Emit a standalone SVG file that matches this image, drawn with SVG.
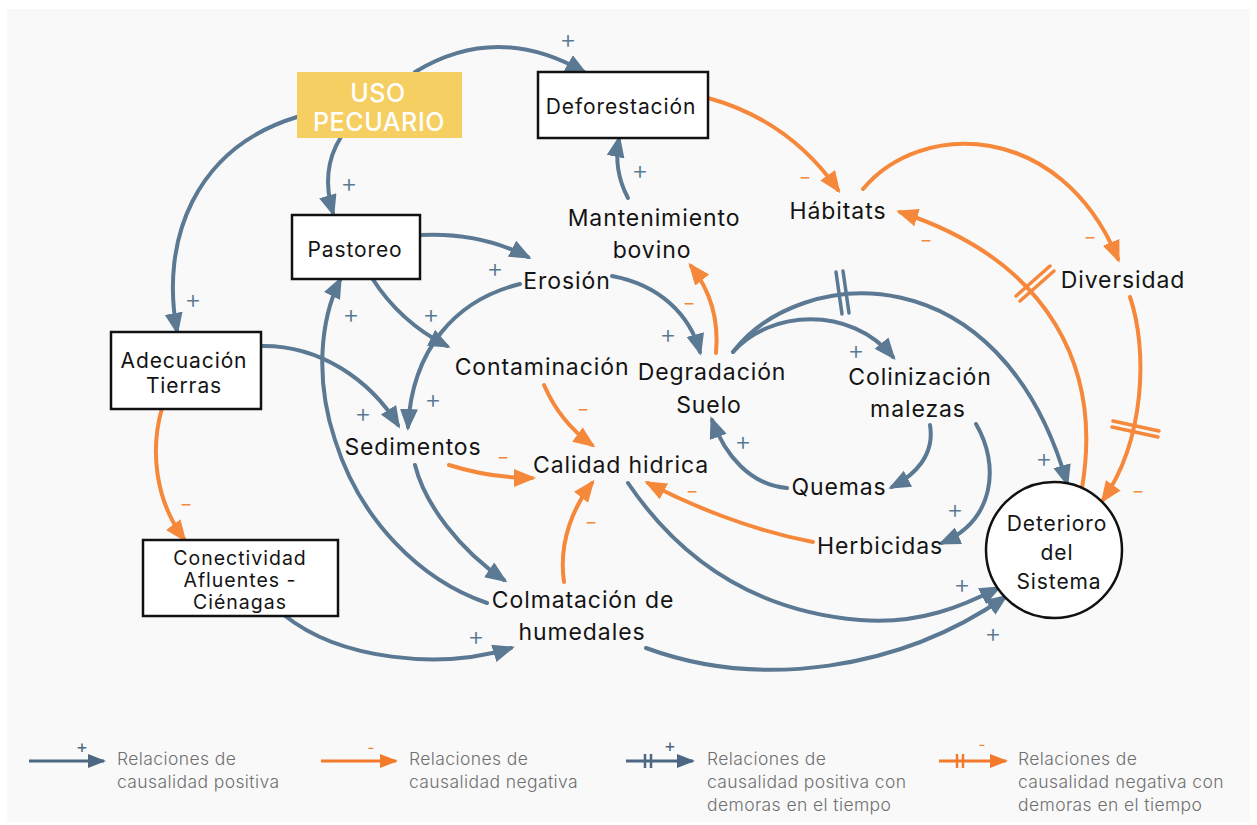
<svg xmlns="http://www.w3.org/2000/svg" width="1257" height="825" viewBox="0 0 1257 825">
  <defs>
    <marker id="ah-blue" markerUnits="userSpaceOnUse" markerWidth="24" markerHeight="20" refX="18" refY="9" orient="auto">
      <path d="M0,0 L22,9 L0,18 Z" fill="#5b7993"/>
    </marker>
    <marker id="ah-orange" markerUnits="userSpaceOnUse" markerWidth="24" markerHeight="20" refX="18" refY="9" orient="auto">
      <path d="M0,0 L22,9 L0,18 Z" fill="#f5883a"/>
    </marker>
    <marker id="ah-lg-blue" markerUnits="userSpaceOnUse" markerWidth="20" markerHeight="16" refX="16" refY="7" orient="auto">
      <path d="M0,0 L18,7 L0,14 Z" fill="#4c6781"/>
    </marker>
    <marker id="ah-lg-orange" markerUnits="userSpaceOnUse" markerWidth="20" markerHeight="16" refX="16" refY="7" orient="auto">
      <path d="M0,0 L18,7 L0,14 Z" fill="#f37a2a"/>
    </marker>
    <style>
      .lbl { font-family: Inter, "Liberation Sans", sans-serif; font-size: 23px; fill: #141414; text-anchor: middle; dominant-baseline: central; letter-spacing: 0.9px; }
      .box-t { font-size: 21px; }
      .small-t { font-size: 19.5px; letter-spacing: 1px; }
      .uso-t { font-family: Inter, "Liberation Sans", sans-serif; font-size: 25px; font-weight: 500; fill: #ffffff; text-anchor: middle; dominant-baseline: central; letter-spacing: 0.6px; }
      .box { fill: #ffffff; stroke: #111111; stroke-width: 2.5; }
      .pos { fill: none; stroke: #5b7993; stroke-width: 4; stroke-linecap: round; marker-end: url(#ah-blue); }
      .neg { fill: none; stroke: #f5883a; stroke-width: 4; stroke-linecap: round; marker-end: url(#ah-orange); }
      .bar-b { stroke: #5b7993; stroke-width: 3.5; stroke-linecap: round; }
      .bar-o { stroke: #f5883a; stroke-width: 3.5; stroke-linecap: round; }
      .plus { font-family: Inter, "Liberation Sans", sans-serif; font-size: 26px; font-weight: 300; fill: #5b7993; text-anchor: middle; dominant-baseline: central; }
      .minus { font-family: Inter, "Liberation Sans", sans-serif; font-size: 19px; fill: #f5883a; text-anchor: middle; dominant-baseline: central; }
      .leg-t { font-family: Inter, "Liberation Sans", sans-serif; font-size: 17.5px; font-weight: 300; fill: #707070; letter-spacing: 0.4px; }
    </style>
  </defs>

  <rect x="0" y="0" width="1257" height="825" fill="#ffffff"/>
  <rect x="7" y="9" width="1243" height="813" fill="#f9f9f9"/>

  <!-- causal links -->
  <g id="connectors">
    <path class="pos" d="M415,72 Q497,22 584,72"/>
    <path class="pos" d="M341,137 Q320,170 333,213"/>
    <path class="pos" d="M297,117 C195,148 160,240 177,331"/>
    <path class="neg" d="M708,98 C770,115 810,150 838,190"/>
    <path class="pos" d="M628,198 Q613,170 619,139"/>
    <path class="pos" d="M420,235 Q480,232 528,257"/>
    <path class="pos" d="M372,278 Q400,322 447,346"/>
    <path class="pos" d="M487,603 C420,580 360,520 335,440 C315,380 320,320 340,280"/>
    <path class="pos" d="M261,346 C320,345 370,380 398,425"/>
    <path class="pos" d="M520,284 C455,300 412,350 408,427"/>
    <path class="pos" d="M612,276 C660,285 690,315 700,352"/>
    <path class="neg" d="M716,353 C719,320 710,290 691,266"/>
    <path class="neg" d="M544,385 Q560,422 592,445"/>
    <path class="neg" d="M449,465 Q490,478 532,478"/>
    <path class="neg" d="M564,582 C558,540 575,505 592,483"/>
    <path class="pos" d="M415,465 C425,505 460,550 504,580"/>
    <path class="pos" d="M284,615 C340,660 440,670 511,648"/>
    <path class="neg" d="M162,408 C150,450 155,500 184,539"/>
    <path class="pos" d="M787,488 C750,485 725,455 712,420"/>
    <path class="pos" d="M930,425 C935,455 915,475 892,487"/>
    <path class="pos" d="M976,424 C1000,465 995,520 942,543"/>
    <path class="pos" d="M733,352 C770,310 850,305 893,357"/>
    <path class="pos" d="M733,352 C800,265 1000,250 1067,483"/>
    <path class="neg" d="M813,542 C750,530 690,505 648,483"/>
    <path class="pos" d="M628,483 C670,545 740,610 860,620 C920,625 965,605 998,588"/>
    <path class="pos" d="M646,648 C760,690 900,670 1005,597"/>
    <path class="neg" d="M863,189 C920,120 1060,120 1118,259"/>
    <path class="neg" d="M1082,488 C1102,370 1052,262 900,212"/>
    <path class="neg" d="M1130,297 C1148,350 1145,440 1103,500"/>

    <!-- delay marks -->
    <line class="bar-b" x1="836" y1="272" x2="842" y2="314"/>
    <line class="bar-b" x1="843" y1="271" x2="849" y2="313"/>
    <line class="bar-o" x1="1016" y1="296" x2="1050" y2="266"/>
    <line class="bar-o" x1="1020" y1="301" x2="1054" y2="271"/>
    <line class="bar-o" x1="1113" y1="421" x2="1159" y2="431"/>
    <line class="bar-o" x1="1112" y1="427" x2="1158" y2="437"/>

    <!-- polarity signs -->
    <text class="plus" x="568" y="38">+</text>
    <text class="plus" x="349" y="182">+</text>
    <text class="plus" x="193" y="298">+</text>
    <text class="minus" x="805" y="176">−</text>
    <text class="plus" x="640" y="169">+</text>
    <text class="plus" x="495" y="267">+</text>
    <text class="plus" x="431" y="313">+</text>
    <text class="plus" x="351" y="313">+</text>
    <text class="plus" x="363" y="412">+</text>
    <text class="plus" x="433" y="398">+</text>
    <text class="plus" x="668" y="333">+</text>
    <text class="minus" x="689" y="302">−</text>
    <text class="minus" x="583" y="408">−</text>
    <text class="minus" x="503" y="456">−</text>
    <text class="minus" x="591" y="521">−</text>
    <text class="plus" x="476" y="635">+</text>
    <text class="minus" x="186" y="503">−</text>
    <text class="plus" x="743" y="440">+</text>
    <text class="plus" x="955" y="508">+</text>
    <text class="plus" x="856" y="349">+</text>
    <text class="plus" x="1044" y="457">+</text>
    <text class="minus" x="692" y="490">−</text>
    <text class="plus" x="962" y="583">+</text>
    <text class="plus" x="993" y="632">+</text>
    <text class="minus" x="1090" y="236">−</text>
    <text class="minus" x="926" y="239">−</text>
    <text class="minus" x="1138" y="490">−</text>
  </g>

  <!-- variables -->
  <g id="uso-pecuario">
    <rect x="297" y="72" width="165" height="66" fill="#f6cf63"/>
    <text class="uso-t" x="378" y="93">USO</text>
    <text class="uso-t" x="379" y="122">PECUARIO</text>
  </g>
  <g id="deforestacion">
    <rect class="box" x="538" y="72" width="170" height="66"/>
    <text class="lbl box-t" x="621" y="106">Deforestación</text>
  </g>
  <g id="pastoreo">
    <rect class="box" x="292" y="215" width="128" height="64"/>
    <text class="lbl box-t" x="355" y="249">Pastoreo</text>
  </g>
  <g id="adecuacion-tierras">
    <rect class="box" x="111" y="332" width="150" height="77"/>
    <text class="lbl box-t" x="184" y="360">Adecuación</text>
    <text class="lbl box-t" x="184" y="385">Tierras</text>
  </g>
  <g id="conectividad">
    <rect class="box" x="143" y="540" width="195" height="76"/>
    <text class="lbl small-t" x="240" y="558">Conectividad</text>
    <text class="lbl small-t" x="240" y="580">Afluentes -</text>
    <text class="lbl small-t" x="240" y="602">Ciénagas</text>
  </g>
  <g id="deterioro-sistema">
    <circle cx="1054" cy="550" r="68" fill="#ffffff" stroke="#111111" stroke-width="2.5"/>
    <text class="lbl box-t" x="1057" y="523">Deterioro</text>
    <text class="lbl box-t" x="1057" y="552">del</text>
    <text class="lbl box-t" x="1059" y="581">Sistema</text>
  </g>
  <g id="mantenimiento-bovino">
    <text class="lbl" x="654" y="218">Mantenimiento</text>
    <text class="lbl" x="652" y="250">bovino</text>
  </g>
  <g id="habitats"><text class="lbl" x="838" y="211">Hábitats</text></g>
  <g id="diversidad"><text class="lbl" x="1123" y="280">Diversidad</text></g>
  <g id="erosion"><text class="lbl" x="567" y="281">Erosión</text></g>
  <g id="contaminacion"><text class="lbl" x="542" y="367">Contaminación</text></g>
  <g id="degradacion-suelo">
    <text class="lbl" x="712" y="372">Degradación</text>
    <text class="lbl" x="709" y="405">Suelo</text>
  </g>
  <g id="colinizacion-malezas">
    <text class="lbl" x="920" y="377">Colinización</text>
    <text class="lbl" x="918" y="409">malezas</text>
  </g>
  <g id="sedimentos"><text class="lbl" x="413" y="447">Sedimentos</text></g>
  <g id="calidad-hidrica"><text class="lbl" x="621" y="465">Calidad hidrica</text></g>
  <g id="quemas"><text class="lbl" x="839" y="487">Quemas</text></g>
  <g id="herbicidas"><text class="lbl" x="880" y="546">Herbicidas</text></g>
  <g id="colmatacion-humedales">
    <text class="lbl" x="583" y="600">Colmatación de</text>
    <text class="lbl" x="582" y="632">humedales</text>
  </g>

  <!-- legend -->
  <g id="legend">
    <line x1="29" y1="761" x2="104" y2="761" stroke="#4c6781" stroke-width="3" marker-end="url(#ah-lg-blue)"/>
    <text x="82" y="746" font-family="Inter, 'Liberation Sans', sans-serif" font-size="18" fill="#4c6781" text-anchor="middle" dominant-baseline="central">+</text>
    <text class="leg-t" x="117" y="765">Relaciones de</text>
    <text class="leg-t" x="117" y="788">causalidad positiva</text>

    <line x1="321" y1="761" x2="396" y2="761" stroke="#f37a2a" stroke-width="3" marker-end="url(#ah-lg-orange)"/>
    <text x="371" y="747" font-family="Inter, 'Liberation Sans', sans-serif" font-size="15" fill="#f37a2a" text-anchor="middle" dominant-baseline="central">-</text>
    <text class="leg-t" x="409" y="765">Relaciones de</text>
    <text class="leg-t" x="409" y="788">causalidad negativa</text>

    <line x1="626" y1="761" x2="693" y2="761" stroke="#4c6781" stroke-width="3" marker-end="url(#ah-lg-blue)"/>
    <line x1="645" y1="754" x2="645" y2="768" stroke="#4c6781" stroke-width="2.5"/>
    <line x1="651" y1="754" x2="651" y2="768" stroke="#4c6781" stroke-width="2.5"/>
    <text x="670" y="745" font-family="Inter, 'Liberation Sans', sans-serif" font-size="18" fill="#4c6781" text-anchor="middle" dominant-baseline="central">+</text>
    <text class="leg-t" x="707" y="765">Relaciones de</text>
    <text class="leg-t" x="707" y="788">causalidad positiva con</text>
    <text class="leg-t" x="707" y="811">demoras en el tiempo</text>

    <line x1="939" y1="761" x2="1006" y2="761" stroke="#f37a2a" stroke-width="3" marker-end="url(#ah-lg-orange)"/>
    <line x1="957" y1="754" x2="957" y2="768" stroke="#f37a2a" stroke-width="2.5"/>
    <line x1="963" y1="754" x2="963" y2="768" stroke="#f37a2a" stroke-width="2.5"/>
    <text x="982" y="744" font-family="Inter, 'Liberation Sans', sans-serif" font-size="15" fill="#f37a2a" text-anchor="middle" dominant-baseline="central">-</text>
    <text class="leg-t" x="1018" y="765">Relaciones de</text>
    <text class="leg-t" x="1018" y="788">causalidad negativa con</text>
    <text class="leg-t" x="1018" y="811">demoras en el tiempo</text>
  </g>
</svg>
